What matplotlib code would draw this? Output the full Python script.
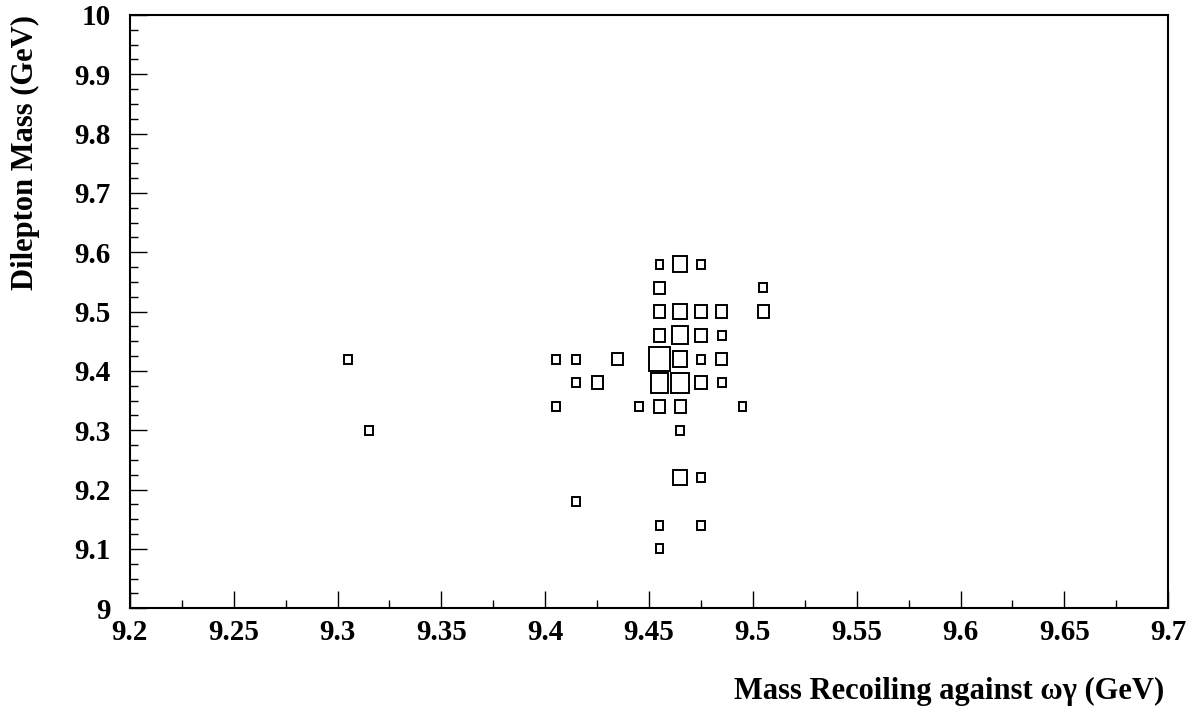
import numpy as np
import matplotlib
matplotlib.use("Agg")
import matplotlib.pyplot as plt
from matplotlib.patches import Rectangle
from matplotlib.ticker import MultipleLocator

# bin centres (x: recoil mass, y: dilepton mass) and bin contents
x_centres = [9.455, 9.465, 9.475,
             9.455, 9.505,
             9.455, 9.465, 9.475, 9.485, 9.505,
             9.455, 9.465, 9.475, 9.485,
             9.305, 9.405, 9.415, 9.435, 9.455, 9.465, 9.475, 9.485,
             9.415, 9.425, 9.455, 9.465, 9.475, 9.485,
             9.405, 9.445, 9.455, 9.465, 9.495,
             9.315, 9.465,
             9.465, 9.475,
             9.415,
             9.455, 9.475,
             9.455]
y_centres = [9.58, 9.58, 9.58,
             9.54, 9.54,
             9.50, 9.50, 9.50, 9.50, 9.50,
             9.46, 9.46, 9.46, 9.46,
             9.42, 9.42, 9.42, 9.42, 9.42, 9.42, 9.42, 9.42,
             9.38, 9.38, 9.38, 9.38, 9.38, 9.38,
             9.34, 9.34, 9.34, 9.34, 9.34,
             9.30, 9.30,
             9.22, 9.22,
             9.18,
             9.14, 9.14,
             9.10]
counts = [1, 3, 1,
          2, 1,
          2, 3, 2, 2, 2,
          2, 4, 2, 1,
          1, 1, 1, 2, 7, 3, 1, 2,
          1, 2, 5, 5, 2, 1,
          1, 1, 2, 2, 1,
          1, 1,
          3, 1,
          1,
          1, 1,
          1]

bin_w = 0.01
bin_h = 0.04

plt.rcParams['font.family'] = ['Liberation Serif', 'DejaVu Serif']
plt.rcParams['font.weight'] = 'bold'

fig = plt.figure(figsize=(11.92, 7.13), dpi=100)
ax = fig.add_axes([0.109, 0.147, 0.871, 0.832])

cmax = max(counts)
for xc, yc, c in zip(x_centres, y_centres, counts):
    f = np.sqrt(c / cmax)
    w = bin_w * f
    h = bin_h * f
    ax.add_patch(Rectangle((xc - w / 2, yc - h / 2), w, h,
                           fill=False, edgecolor='black', linewidth=1.4))

ax.set_xlim(9.2, 9.7)
ax.set_ylim(9.0, 10.0)
ax.xaxis.set_minor_locator(MultipleLocator(0.025))
ax.yaxis.set_minor_locator(MultipleLocator(0.025))

ax.set_xticks(np.arange(9.2, 9.701, 0.05))
ax.set_xticklabels(['9.2', '9.25', '9.3', '9.35', '9.4', '9.45', '9.5',
                    '9.55', '9.6', '9.65', '9.7'])
ax.set_yticks(np.arange(9.0, 10.001, 0.1))
ax.set_yticklabels(['9', '9.1', '9.2', '9.3', '9.4', '9.5', '9.6', '9.7',
                    '9.8', '9.9', '10'])

ax.tick_params(axis='both', which='both', direction='in', top=False, right=False,
               width=1.0)
ax.tick_params(axis='both', which='major', length=12, labelsize=21)
ax.tick_params(axis='both', which='minor', length=6)
ax.tick_params(axis='x', which='major', pad=8)
ax.tick_params(axis='y', which='major', pad=14)
for lab in ax.get_xticklabels() + ax.get_yticklabels():
    lab.set_fontweight('bold')

for s in ax.spines.values():
    s.set_linewidth(1.5)

fig.text(0.977, 0.03, 'Mass Recoiling against \u03c9\u03b3 (GeV)', ha='right',
         va='center', fontsize=22, fontweight='bold')
fig.text(0.021, 0.979, 'Dilepton Mass (GeV)', ha='center', va='top',
         rotation=90, fontsize=22, fontweight='bold')

fig.savefig('out.png', dpi=100)
